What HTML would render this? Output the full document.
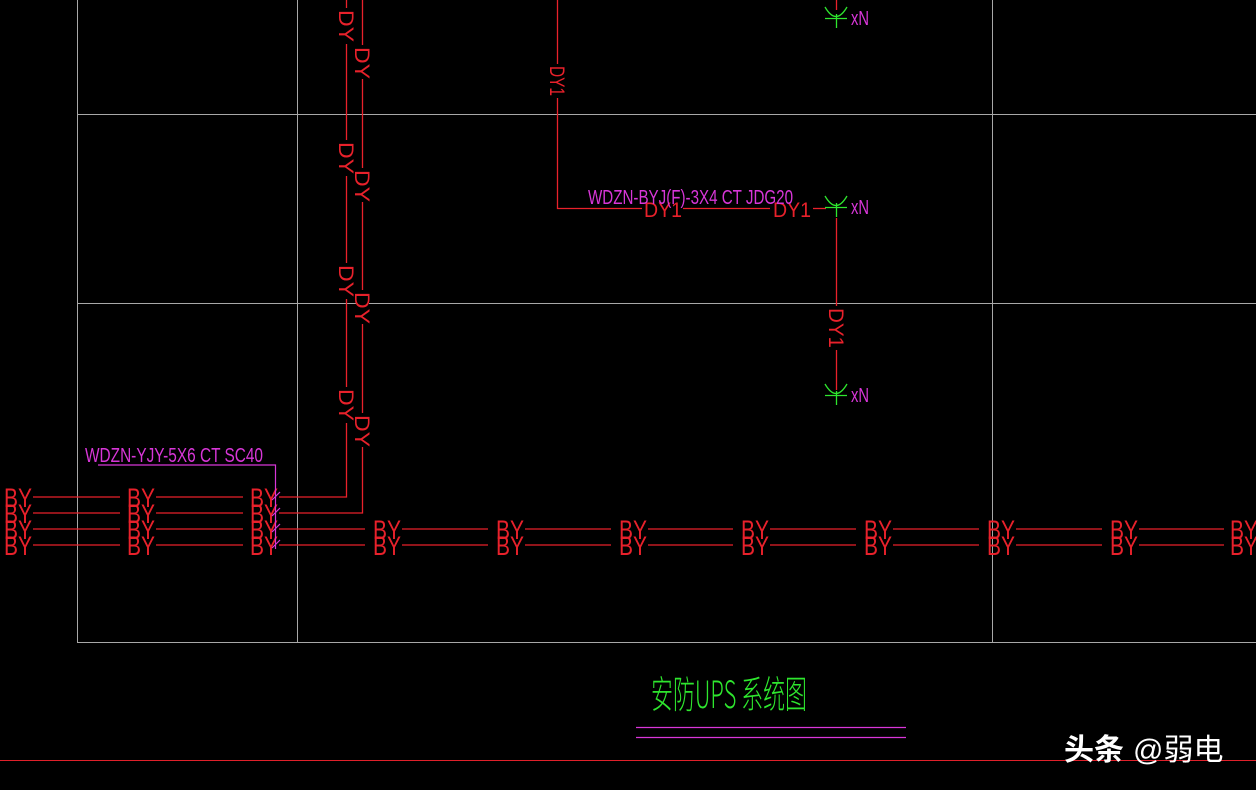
<!DOCTYPE html>
<html><head><meta charset="utf-8"><style>
html,body{margin:0;padding:0;background:#000;}
svg{display:block;}
text{font-family:"Liberation Sans","Noto Sans CJK SC",sans-serif;}
</style></head><body>
<svg width="1256" height="790" viewBox="0 0 1256 790" xmlns="http://www.w3.org/2000/svg">
<rect width="1256" height="790" fill="#000"/>
<g stroke="#a8a8a8" stroke-width="1">
<line x1="77.5" y1="0" x2="77.5" y2="642"/>
<line x1="297.5" y1="0" x2="297.5" y2="642"/>
<line x1="992.5" y1="0" x2="992.5" y2="642"/>
<line x1="77" y1="114.5" x2="1256" y2="114.5"/>
<line x1="77" y1="303.5" x2="1256" y2="303.5"/>
<line x1="77" y1="642.5" x2="1256" y2="642.5"/>
</g>
<line x1="0" y1="760.5" x2="1256" y2="760.5" stroke="#e0202a" stroke-width="1"/>

<g stroke="#e8212b" stroke-width="1.3" fill="none">
<line x1="33" y1="497" x2="120" y2="497"/><line x1="33" y1="513" x2="120" y2="513"/>
<line x1="33" y1="529" x2="120" y2="529"/><line x1="33" y1="545" x2="120" y2="545"/>
<line x1="156" y1="497" x2="243" y2="497"/><line x1="156" y1="513" x2="243" y2="513"/>
<line x1="156" y1="529" x2="243" y2="529"/><line x1="156" y1="545" x2="243" y2="545"/>
<polyline points="279,497 346.5,497 346.5,0"/>
<polyline points="279,513 362.5,513 362.5,0"/>
<line x1="279" y1="529" x2="365" y2="529"/><line x1="279" y1="545" x2="365" y2="545"/>
<line x1="402" y1="529" x2="488" y2="529"/><line x1="402" y1="545" x2="488" y2="545"/>
<line x1="525" y1="529" x2="611" y2="529"/><line x1="525" y1="545" x2="611" y2="545"/>
<line x1="648" y1="529" x2="733" y2="529"/><line x1="648" y1="545" x2="733" y2="545"/>
<line x1="770" y1="529" x2="856" y2="529"/><line x1="770" y1="545" x2="856" y2="545"/>
<line x1="893" y1="529" x2="979" y2="529"/><line x1="893" y1="545" x2="979" y2="545"/>
<line x1="1016" y1="529" x2="1102" y2="529"/><line x1="1016" y1="545" x2="1102" y2="545"/>
<line x1="1139" y1="529" x2="1224" y2="529"/><line x1="1139" y1="545" x2="1224" y2="545"/>
<polyline points="557.5,0 557.5,208.5 642,208.5"/>
<line x1="683" y1="208.5" x2="770" y2="208.5"/>
<line x1="813" y1="208.5" x2="826" y2="208.5"/>
<line x1="836.5" y1="0" x2="836.5" y2="10"/>
<line x1="836.5" y1="218" x2="836.5" y2="390"/>
</g>
<g fill="#000">
<rect x="340" y="8" width="13" height="36"/><rect x="356" y="45" width="13" height="34"/>
<rect x="340" y="140" width="13" height="36"/><rect x="356" y="168" width="13" height="34"/>
<rect x="340" y="263" width="13" height="36"/><rect x="356" y="290" width="13" height="34"/>
<rect x="340" y="387" width="13" height="36"/><rect x="356" y="413" width="13" height="34"/>
<rect x="551" y="64" width="13" height="34"/><rect x="830" y="306" width="13" height="44"/>
</g>
<g fill="#e8212b" font-size="27">
<text x="4" y="507" textLength="28" lengthAdjust="spacingAndGlyphs">BY</text>
<text x="4" y="523" textLength="28" lengthAdjust="spacingAndGlyphs">BY</text>
<text x="4" y="539" textLength="28" lengthAdjust="spacingAndGlyphs">BY</text>
<text x="4" y="555" textLength="28" lengthAdjust="spacingAndGlyphs">BY</text>
<text x="127" y="507" textLength="28" lengthAdjust="spacingAndGlyphs">BY</text>
<text x="127" y="523" textLength="28" lengthAdjust="spacingAndGlyphs">BY</text>
<text x="127" y="539" textLength="28" lengthAdjust="spacingAndGlyphs">BY</text>
<text x="127" y="555" textLength="28" lengthAdjust="spacingAndGlyphs">BY</text>
<text x="250" y="507" textLength="28" lengthAdjust="spacingAndGlyphs">BY</text>
<text x="250" y="523" textLength="28" lengthAdjust="spacingAndGlyphs">BY</text>
<text x="250" y="539" textLength="28" lengthAdjust="spacingAndGlyphs">BY</text>
<text x="250" y="555" textLength="28" lengthAdjust="spacingAndGlyphs">BY</text>
<text x="373" y="539" textLength="28" lengthAdjust="spacingAndGlyphs">BY</text><text x="373" y="555" textLength="28" lengthAdjust="spacingAndGlyphs">BY</text>
<text x="496" y="539" textLength="28" lengthAdjust="spacingAndGlyphs">BY</text><text x="496" y="555" textLength="28" lengthAdjust="spacingAndGlyphs">BY</text>
<text x="619" y="539" textLength="28" lengthAdjust="spacingAndGlyphs">BY</text><text x="619" y="555" textLength="28" lengthAdjust="spacingAndGlyphs">BY</text>
<text x="741" y="539" textLength="28" lengthAdjust="spacingAndGlyphs">BY</text><text x="741" y="555" textLength="28" lengthAdjust="spacingAndGlyphs">BY</text>
<text x="864" y="539" textLength="28" lengthAdjust="spacingAndGlyphs">BY</text><text x="864" y="555" textLength="28" lengthAdjust="spacingAndGlyphs">BY</text>
<text x="987" y="539" textLength="28" lengthAdjust="spacingAndGlyphs">BY</text><text x="987" y="555" textLength="28" lengthAdjust="spacingAndGlyphs">BY</text>
<text x="1110" y="539" textLength="28" lengthAdjust="spacingAndGlyphs">BY</text><text x="1110" y="555" textLength="28" lengthAdjust="spacingAndGlyphs">BY</text>
<text x="1230" y="539" textLength="28" lengthAdjust="spacingAndGlyphs">BY</text><text x="1230" y="555" textLength="28" lengthAdjust="spacingAndGlyphs">BY</text>
</g>
<g fill="#e8212b" font-size="21">
<text transform="translate(339,10) rotate(90)" textLength="32" lengthAdjust="spacingAndGlyphs">DY</text>
<text transform="translate(355,47) rotate(90)" textLength="32" lengthAdjust="spacingAndGlyphs">DY</text>
<text transform="translate(339,142) rotate(90)" textLength="32" lengthAdjust="spacingAndGlyphs">DY</text>
<text transform="translate(355,170) rotate(90)" textLength="32" lengthAdjust="spacingAndGlyphs">DY</text>
<text transform="translate(339,265) rotate(90)" textLength="32" lengthAdjust="spacingAndGlyphs">DY</text>
<text transform="translate(355,292) rotate(90)" textLength="32" lengthAdjust="spacingAndGlyphs">DY</text>
<text transform="translate(339,389) rotate(90)" textLength="32" lengthAdjust="spacingAndGlyphs">DY</text>
<text transform="translate(355,415) rotate(90)" textLength="32" lengthAdjust="spacingAndGlyphs">DY</text>
<text transform="translate(550,66) rotate(90)" textLength="30" lengthAdjust="spacingAndGlyphs">DY1</text>
<text transform="translate(829,308) rotate(90)" textLength="40" lengthAdjust="spacingAndGlyphs">DY1</text>
<text x="644" y="217" textLength="38" lengthAdjust="spacingAndGlyphs">DY1</text>
<text x="773" y="217" textLength="38" lengthAdjust="spacingAndGlyphs">DY1</text>
</g>
<g stroke="#2ee62e" stroke-width="1.3" fill="none">
<path d="M825,7 Q836,26 847,7"/><line x1="825" y1="18.5" x2="847" y2="18.5"/><line x1="836.5" y1="14" x2="836.5" y2="28"/>
<path d="M825,196 Q836,215 847,196"/><line x1="825" y1="207.5" x2="847" y2="207.5"/><line x1="836.5" y1="203" x2="836.5" y2="217"/>
<path d="M825,384 Q836,403 847,384"/><line x1="825" y1="395.5" x2="847" y2="395.5"/><line x1="836.5" y1="391" x2="836.5" y2="405"/>
</g>
<g fill="#d836d8" font-size="20">
<text x="851" y="25" textLength="18" lengthAdjust="spacingAndGlyphs">xN</text>
<text x="851" y="214" textLength="18" lengthAdjust="spacingAndGlyphs">xN</text>
<text x="851" y="402" textLength="18" lengthAdjust="spacingAndGlyphs">xN</text>
<text x="588" y="204" textLength="205" lengthAdjust="spacingAndGlyphs">WDZN-BYJ(F)-3X4 CT JDG20</text>
<text x="85" y="462" textLength="178" lengthAdjust="spacingAndGlyphs">WDZN-YJY-5X6 CT SC40</text>
</g>
<g stroke="#d836d8" stroke-width="1.2" fill="none">
<polyline points="98,465 275.5,465 275.5,549"/>
<line x1="272" y1="500" x2="280" y2="492"/><line x1="272" y1="516" x2="280" y2="508"/>
<line x1="272" y1="532" x2="280" y2="524"/><line x1="272" y1="548" x2="280" y2="540"/>
<line x1="636" y1="727.5" x2="906" y2="727.5"/>
<line x1="636" y1="737.5" x2="906" y2="737.5"/>
</g>
<text x="651" y="708" font-size="38" fill="#2ee62e" textLength="156" lengthAdjust="spacingAndGlyphs" style="font-family:'Noto Sans CJK SC',sans-serif;font-weight:300">安防UPS 系统图</text>
<text x="1064" y="760" font-size="30" fill="#fff" style="font-family:'Noto Sans CJK SC',sans-serif;font-weight:bold">头条</text>
<text x="1133" y="760" font-size="30" fill="#fff" style="font-family:'Liberation Sans','Noto Sans CJK SC',sans-serif">@弱电</text>
</svg>
</body></html>
